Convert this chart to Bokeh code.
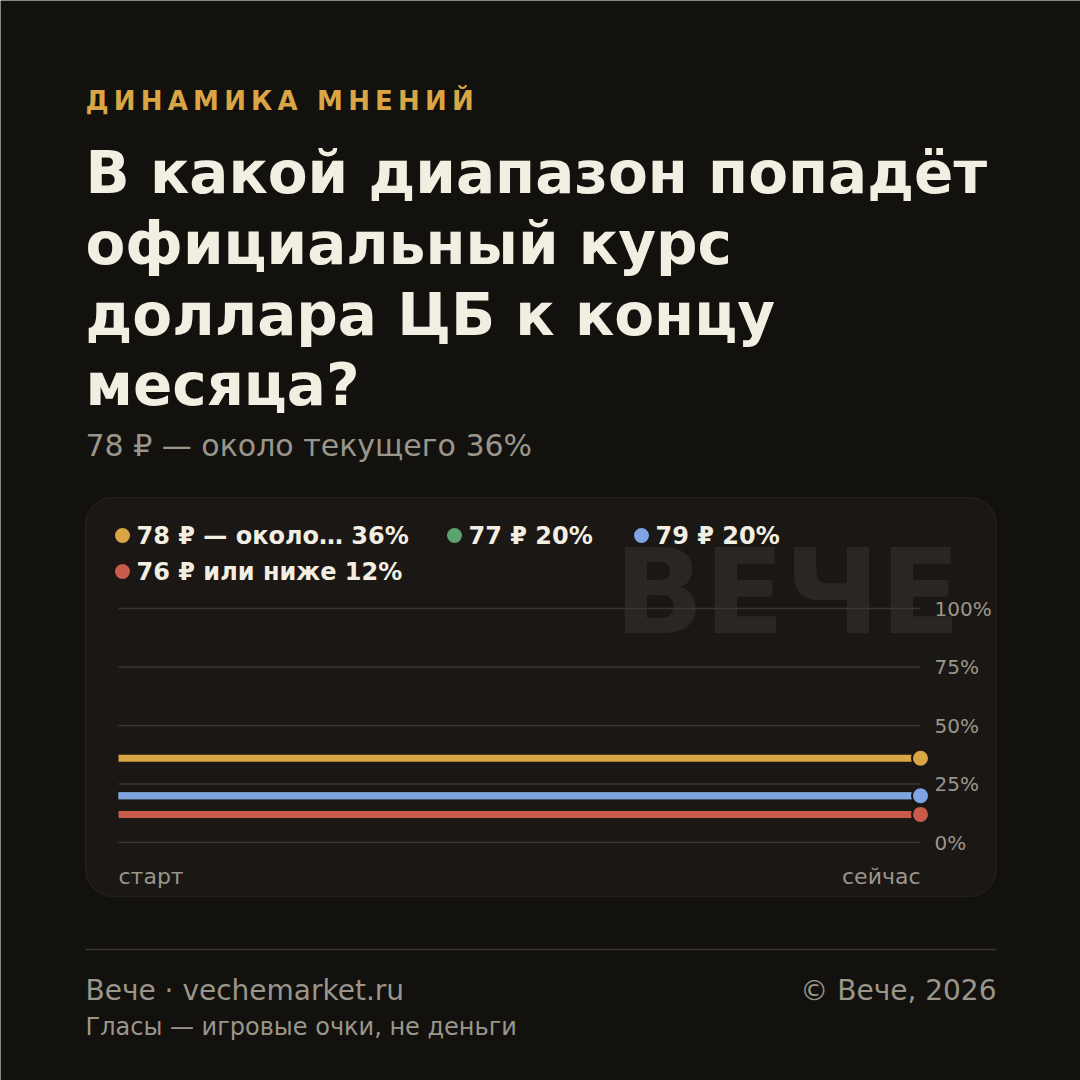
from bokeh.plotting import figure
from bokeh.models import Range1d, BoxAnnotation
from bokeh.core.properties import value
from bokeh.embed import file_html
from bokeh.resources import INLINE

# ---------------- data ----------------
kicker = "ДИНАМИКА МНЕНИЙ"
title_lines = ["В какой диапазон попадёт", "официальный курс", "доллара ЦБ к концу", "месяца?"]
subtitle = "78 ₽ — около текущего 36%"

series_names = ["78 ₽ — около…", "77 ₽", "79 ₽", "76 ₽ или ниже"]
series_start = [36, 20, 20, 12]   # share at "старт"
series_now = [36, 20, 20, 12]     # share at "сейчас"
series_colors = ["#d9a545", "#5aa36f", "#7fa3e3", "#c95b4b"]
time_labels = ["старт", "сейчас"]
y_ticks = [0, 25, 50, 75, 100]
watermark = "ВЕЧЕ"
footer_left = "Вече · vechemarket.ru"
footer_right = "© Вече, 2026"
footer_note = "Гласы — игровые очки, не деньги"

# ---------------- style ----------------
BG = "#12110e"
PANEL = "#1a1714"
RULE = "#3a3731"
BORDER = "#3f3b34"
CREAM = "#f2eee2"
GRAY = "#9a968b"
GOLD = "#d9a545"
WM = "#2a2722"
FONT = value("DejaVu Sans")

W = H = 1080
p = figure(width=W, height=H, x_range=Range1d(0, W), y_range=Range1d(H, 0),
           output_backend="svg", toolbar_location=None,
           x_axis_type=None, y_axis_type=None, min_border=0,
           background_fill_color=BG, border_fill_color=BG, outline_line_color=None)
p.xgrid.visible = False
p.ygrid.visible = False

# chart scales: time index 0..1 -> 118..920 px, percent 0..100 -> 842..608 px
X0, X1 = 118.0, 920.0
Y0, Y100 = 842.0, 608.0
sx = X1 - X0
sy = (Y0 - Y100) / 100.0
p.extra_x_ranges = {"t": Range1d(start=-X0 / sx, end=(W - X0) / sx)}
p.extra_y_ranges = {"pct": Range1d(start=-(H - Y0) / sy, end=Y0 / sy)}

# ---------------- header ----------------
p.text(x=[85], y=[100], text=["\u2009".join(kicker)], text_font=FONT, text_font_style="bold",
       text_font_size="26px", text_color=GOLD, text_baseline="middle")
p.text(x=[85] * 4, y=[172, 243, 314, 384], text=title_lines, text_font=FONT, text_font_style="bold",
       text_font_size="58px", text_color=CREAM, text_baseline="middle")
p.text(x=[85], y=[445], text=[subtitle], text_font=FONT, text_font_size="30px",
       text_color=GRAY, text_baseline="middle")

# ---------------- panel ----------------
p.add_layout(BoxAnnotation(left=85, right=996, top=497, bottom=896, fill_color=PANEL, fill_alpha=1,
                           line_color=BORDER, line_width=1.5, border_radius=28, level="underlay"))

p.text(x=[960], y=[591], text=[watermark], text_font=FONT, text_font_style="bold",
       text_font_size="118px", text_color=WM, text_align="right", text_baseline="middle")

# legend
leg_x = [122, 454, 641, 122]
leg_y = [535, 535, 535, 571]
leg_text = [f"{n} {v}%" for n, v in zip(series_names, series_now)]
p.scatter(x=leg_x, y=leg_y, size=15, fill_color=series_colors, line_color=None)
p.text(x=[x + 14 for x in leg_x], y=leg_y, text=leg_text, text_font=FONT, text_font_style="bold",
       text_font_size="24px", text_color=CREAM, text_baseline="middle")

# grid
p.segment(x0=[0] * len(y_ticks), x1=[1] * len(y_ticks), y0=y_ticks, y1=y_ticks,
          line_color=RULE, line_width=1.5, x_range_name="t", y_range_name="pct")
p.text(x=[1] * len(y_ticks), y=y_ticks, text=[f"{t}%" for t in y_ticks], x_offset=14,
       text_font=FONT, text_font_size="20px", text_color=GRAY, text_baseline="middle",
       x_range_name="t", y_range_name="pct")

# series
for s0, s1, c in zip(series_start, series_now, series_colors):
    p.line(x=[0, 1], y=[s0, s1], line_color=c, line_width=7, line_cap="butt",
           x_range_name="t", y_range_name="pct")
    p.scatter(x=[1], y=[s1], size=17, fill_color=c, line_color=PANEL, line_width=2,
              x_range_name="t", y_range_name="pct")

# time labels
p.text(x=[0, 1], y=[876, 876], text=time_labels, text_align=["left", "right"],
       text_font=FONT, text_font_size="22px", text_color=GRAY, text_baseline="middle",
       x_range_name="t")

# ---------------- footer ----------------
p.segment(x0=[85], x1=[996], y0=[949], y1=[949], line_color=RULE, line_width=1.5)
p.text(x=[85], y=[990], text=[footer_left], text_font=FONT, text_font_size="28px",
       text_color=GRAY, text_baseline="middle")
p.text(x=[996], y=[990], text=[footer_right], text_font=FONT, text_font_size="28px",
       text_color=GRAY, text_align="right", text_baseline="middle")
p.text(x=[85], y=[1026], text=[footer_note], text_font=FONT, text_font_size="24px",
       text_color=GRAY, text_baseline="middle")

open("out.html", "w").write(file_html(p, INLINE))
